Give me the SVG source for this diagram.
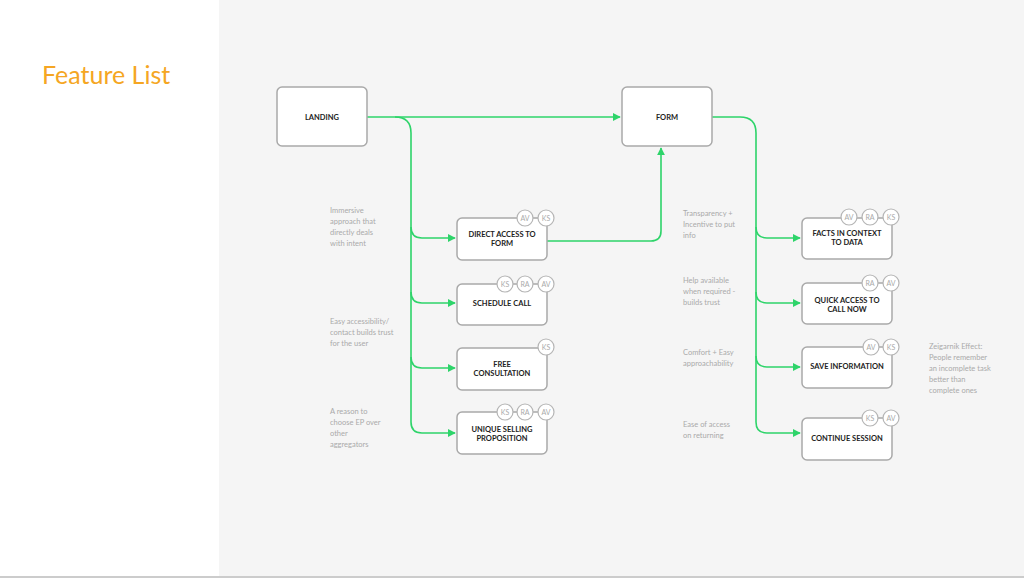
<svg xmlns="http://www.w3.org/2000/svg" width="1024" height="578" viewBox="0 0 1024 578">
<style>
.n{fill:#fff;stroke:#a9a9a9;stroke-width:1.5}
.t{font-family:Lato,"Liberation Sans",sans-serif;font-size:7.5px;font-weight:bold;fill:#222;text-anchor:middle}
.b{fill:#fff;stroke:#b5b5b5;stroke-width:1.2}
.bt{font-family:Lato,"Liberation Sans",sans-serif;font-size:7px;fill:#aaa;text-anchor:middle}
.a{font-family:Lato,"Liberation Sans",sans-serif;font-size:7.5px;fill:#aaa}
.c{fill:none;stroke:#2ed46a;stroke-width:1.6}
</style>
<defs><marker id="ar" viewBox="0 0 10 10" refX="9" refY="5" markerWidth="8" markerHeight="8" orient="auto" markerUnits="userSpaceOnUse"><path d="M0,0L10,5L0,10z" fill="#2ed46a"/></marker></defs>
<rect width="1024" height="578" fill="#f5f5f5"/>
<rect width="219" height="578" fill="#fff"/>
<rect y="576" width="1024" height="2" fill="#ccc"/>
<text x="42" y="84" font-family="Lato,'Liberation Sans',sans-serif" font-size="25" fill="#f5a623">Feature List</text>
<g id="connectors">
<path class="c" d="M367,117H620" marker-end="url(#ar)"/>
<path class="c" d="M395,117Q411,117 411,133V422Q411,433 422,433H455" marker-end="url(#ar)"/>
<path class="c" d="M411,227Q411,238 422,238H455" marker-end="url(#ar)"/>
<path class="c" d="M411,292Q411,303 422,303H455" marker-end="url(#ar)"/>
<path class="c" d="M411,357Q411,368 422,368H455" marker-end="url(#ar)"/>
<path class="c" d="M547,241H651Q661,241 661,231V148" marker-end="url(#ar)"/>
<path class="c" d="M712,117H740Q756,117 756,133V422Q756,433 767,433H800" marker-end="url(#ar)"/>
<path class="c" d="M756,227Q756,238 767,238H800" marker-end="url(#ar)"/>
<path class="c" d="M756,292Q756,303 767,303H800" marker-end="url(#ar)"/>
<path class="c" d="M756,356Q756,367 767,367H800" marker-end="url(#ar)"/>
</g>
<g id="landing"><rect class="n" x="277" y="87" width="90" height="59" rx="5"/><text class="t" x="322" y="120">LANDING</text></g>
<g id="form"><rect class="n" x="622" y="87" width="90" height="59" rx="5"/><text class="t" x="667" y="120">FORM</text></g>
<g id="direct"><rect class="n" x="457" y="218" width="90" height="42" rx="5"/><text class="t" x="502" y="237">DIRECT ACCESS TO</text><text class="t" x="502" y="246">FORM</text>
<circle class="b" cx="525" cy="218" r="8"/><text class="bt" x="525" y="220.5">AV</text><circle class="b" cx="546" cy="218" r="8"/><text class="bt" x="546" y="220.5">KS</text></g>
<g id="schedule"><rect class="n" x="457" y="284" width="90" height="41" rx="5"/><text class="t" x="502" y="306">SCHEDULE CALL</text>
<circle class="b" cx="505" cy="284" r="8"/><text class="bt" x="505" y="286.5">KS</text><circle class="b" cx="525" cy="284" r="8"/><text class="bt" x="525" y="286.5">RA</text><circle class="b" cx="546" cy="284" r="8"/><text class="bt" x="546" y="286.5">AV</text></g>
<g id="free"><rect class="n" x="457" y="348" width="90" height="42" rx="5"/><text class="t" x="502" y="367">FREE</text><text class="t" x="502" y="376">CONSULTATION</text>
<circle class="b" cx="546" cy="347" r="8"/><text class="bt" x="546" y="349.5">KS</text></g>
<g id="usp"><rect class="n" x="457" y="412" width="90" height="42" rx="5"/><text class="t" x="502" y="432">UNIQUE SELLING</text><text class="t" x="502" y="441">PROPOSITION</text>
<circle class="b" cx="505" cy="412" r="8"/><text class="bt" x="505" y="414.5">KS</text><circle class="b" cx="525" cy="412" r="8"/><text class="bt" x="525" y="414.5">RA</text><circle class="b" cx="546" cy="412" r="8"/><text class="bt" x="546" y="414.5">AV</text></g>
<g id="facts"><rect class="n" x="802" y="218" width="90" height="41" rx="5"/><text class="t" x="847" y="236">FACTS IN CONTEXT</text><text class="t" x="847" y="245">TO DATA</text>
<circle class="b" cx="849" cy="217" r="8"/><text class="bt" x="849" y="219.5">AV</text><circle class="b" cx="870" cy="217" r="8"/><text class="bt" x="870" y="219.5">RA</text><circle class="b" cx="891" cy="217" r="8"/><text class="bt" x="891" y="219.5">KS</text></g>
<g id="quick"><rect class="n" x="802" y="283" width="90" height="41" rx="5"/><text class="t" x="847" y="303">QUICK ACCESS TO</text><text class="t" x="847" y="312">CALL NOW</text>
<circle class="b" cx="870" cy="283" r="8"/><text class="bt" x="870" y="285.5">RA</text><circle class="b" cx="891" cy="283" r="8"/><text class="bt" x="891" y="285.5">AV</text></g>
<g id="save"><rect class="n" x="802" y="347" width="90" height="41" rx="5"/><text class="t" x="847" y="369">SAVE INFORMATION</text>
<circle class="b" cx="871" cy="347" r="8"/><text class="bt" x="871" y="349.5">AV</text><circle class="b" cx="891" cy="347" r="8"/><text class="bt" x="891" y="349.5">KS</text></g>
<g id="continue"><rect class="n" x="802" y="418" width="90" height="42" rx="5"/><text class="t" x="847" y="441">CONTINUE SESSION</text>
<circle class="b" cx="870" cy="418" r="8"/><text class="bt" x="870" y="420.5">KS</text><circle class="b" cx="891" cy="418" r="8"/><text class="bt" x="891" y="420.5">AV</text></g>
<g id="notes">
<text class="a" x="330" y="213">Immersive</text><text class="a" x="330" y="224">approach that</text><text class="a" x="330" y="235">directly deals</text><text class="a" x="330" y="246">with intent</text>
<text class="a" x="330" y="324">Easy accessibility/</text><text class="a" x="330" y="335">contact builds trust</text><text class="a" x="330" y="346">for the user</text>
<text class="a" x="330" y="414">A reason to</text><text class="a" x="330" y="425">choose EP over</text><text class="a" x="330" y="436">other</text><text class="a" x="330" y="447">aggregators</text>
<text class="a" x="683" y="216">Transparency +</text><text class="a" x="683" y="227">Incentive to put</text><text class="a" x="683" y="238">info</text>
<text class="a" x="683" y="283">Help available</text><text class="a" x="683" y="294">when required -</text><text class="a" x="683" y="305">builds trust</text>
<text class="a" x="683" y="355">Comfort + Easy</text><text class="a" x="683" y="366">approachability</text>
<text class="a" x="683" y="427">Ease of access</text><text class="a" x="683" y="438">on returning</text>
<text class="a" x="929" y="349">Zeigarnik Effect:</text><text class="a" x="929" y="360">People remember</text><text class="a" x="929" y="371">an incomplete task</text><text class="a" x="929" y="382">better than</text><text class="a" x="929" y="393">complete ones</text>
</g>
</svg>
